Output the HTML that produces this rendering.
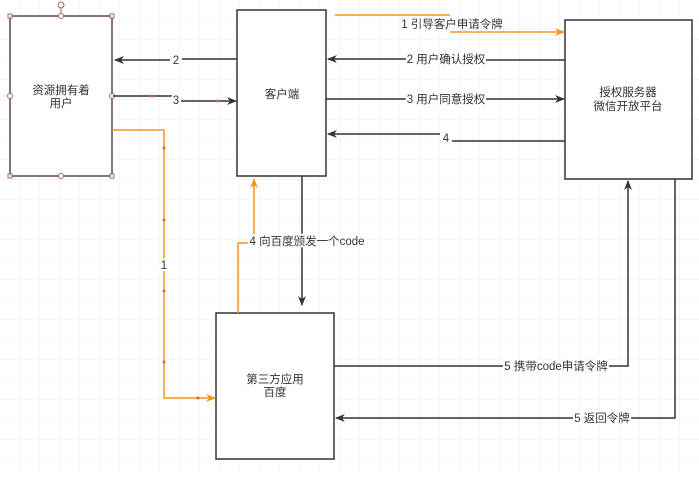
<!DOCTYPE html>
<html><head><meta charset="utf-8"><style>
body{margin:0;background:#fff}
svg text{font-family:"Liberation Sans","Noto Sans CJK SC",sans-serif;font-size:11.5px;fill:#333}
.l{stroke:#fff;stroke-width:4px;paint-order:stroke;stroke-linejoin:round}
</style></head><body>
<svg width="699" height="472" xmlns="http://www.w3.org/2000/svg">
<defs>
<pattern id="g" width="20" height="20" patternUnits="userSpaceOnUse"><path d="M20 0V20M0 20H20" stroke="#ececec" stroke-width="1" fill="none"/></pattern>
<marker id="ab" markerWidth="10" markerHeight="8" refX="9" refY="4" orient="auto" markerUnits="userSpaceOnUse"><path d="M0,0L10,4L0,8L3,4Z" fill="#333"/></marker>
<marker id="ao" markerWidth="10" markerHeight="8" refX="9" refY="4" orient="auto" markerUnits="userSpaceOnUse"><path d="M0,0L10,4L0,8L3,4Z" fill="#f7931e"/></marker>
</defs>
<rect width="699" height="472" fill="url(#g)"/>
<g fill="#fff" stroke="#333" stroke-width="1.5">
<rect x="10" y="16" width="102" height="160" stroke="#5a4a4a"/>
<rect x="237" y="10" width="89" height="166"/>
<rect x="565" y="20" width="127" height="159"/>
<rect x="216" y="313" width="118" height="146"/>
</g>
<g fill="#fff" stroke="#b06060" stroke-width="1">
<rect x="8" y="14" width="4" height="4"/><rect x="110" y="14" width="4" height="4"/><rect x="8" y="174" width="4" height="4"/><rect x="110" y="174" width="4" height="4"/>
<circle cx="61" cy="16" r="2.5"/><circle cx="61" cy="176" r="2.5"/><circle cx="10" cy="96" r="2.5"/><circle cx="112" cy="96" r="2.5"/><circle cx="61" cy="5" r="3"/><path d="M61 8V14"/>
</g>
<g fill="none" stroke="#333" stroke-width="1.5">
<path d="M237 59H182M170 60H115" marker-end="url(#ab)"/>
<path d="M113 96H172M181 101H236" marker-end="url(#ab)"/>
<path d="M565 60H486M406 59H328" marker-end="url(#ab)"/>
<path d="M326 99H406M486 99H564" marker-end="url(#ab)"/>
<path d="M565 141H452M440 134H328" marker-end="url(#ab)"/>
<path d="M302 176V305" marker-end="url(#ab)"/>
<path d="M334 366H505M607 366H628V181" marker-end="url(#ab)"/>
<path d="M675 179V418H630M574 418H336" marker-end="url(#ab)"/>
</g>
<g fill="none" stroke="#f7931e" stroke-width="1.5">
<path d="M112 130H164V398H215" marker-end="url(#ao)"/>
<path d="M238 313V243H250M254 234V179" marker-end="url(#ao)"/>
<path d="M335 15H450"/>
<path d="M450 32H564" marker-end="url(#ao)"/>
</g>
<g fill="#e06060"><circle cx="152" cy="96" r="1.5"/><circle cx="218" cy="101" r="1.5"/><circle cx="164" cy="148" r="1.5"/><circle cx="164" cy="220" r="1.5"/><circle cx="164" cy="291" r="1.5"/><circle cx="164" cy="362" r="1.5"/><circle cx="198" cy="398" r="1.5"/></g>
<g text-anchor="middle">
<text x="61" y="94">资源拥有着</text><text x="61" y="107">用户</text>
<text x="282" y="98">客户端</text>
<text x="628" y="96">授权服务器</text><text x="628" y="110">微信开放平台</text>
<text x="275" y="383">第三方应用</text><text x="275" y="396">百度</text>
<text class="l" x="176" y="64">2</text><text class="l" x="176" y="104">3</text><text class="l" x="164" y="269">1</text>
<text class="l" x="452" y="28">1 引导客户申请令牌</text>
<text class="l" x="446" y="63">2 用户确认授权</text>
<text class="l" x="446" y="103">3 用户同意授权</text>
<text class="l" x="446" y="142">4</text>
<text class="l" x="307" y="245">4 向百度颁发一个code</text>
<text class="l" x="556" y="370">5 携带code申请令牌</text>
<text class="l" x="602" y="422">5 返回令牌</text>
</g>
</svg>
</body></html>
